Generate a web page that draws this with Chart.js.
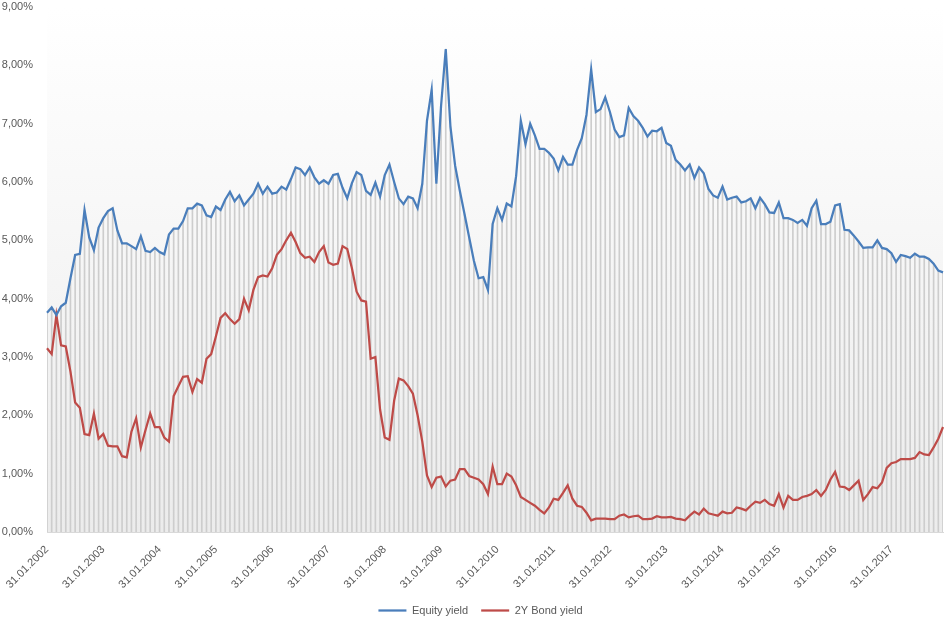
<!DOCTYPE html>
<html>
<head>
<meta charset="utf-8">
<script src="https://cdn.jsdelivr.net/npm/chart.js@4.4.1/dist/chart.umd.min.js"></script>
<style>
html,body{margin:0;padding:0;background:#ffffff;}
#wrap{width:946px;height:626px;position:relative;}
</style>
</head>
<body>
<div id="wrap"><canvas id="c" width="946" height="626"></canvas></div>
<script>
// ---- Data (monthly, 31.01.2002 .. 31.12.2017), values in % ----
const startYear = 2002;
const endYear = 2017;
const seriesNames = ['Equity yield', '2Y Bond yield'];

const equityYield = [
 3.76,3.85,3.72,3.87,3.93,4.35,4.75,4.77,5.52,5.05,4.83,5.22,
 5.38,5.50,5.55,5.17,4.95,4.95,4.90,4.85,5.07,4.82,4.80,4.87,
 4.80,4.76,5.10,5.20,5.20,5.33,5.55,5.55,5.63,5.60,5.43,5.40,
 5.58,5.52,5.70,5.83,5.67,5.77,5.60,5.70,5.80,5.97,5.80,5.92,
 5.80,5.82,5.92,5.87,6.05,6.25,6.22,6.12,6.25,6.08,5.97,6.03,
 5.97,6.12,6.14,5.90,5.72,5.98,6.17,6.12,5.85,5.78,5.99,5.75,
 6.12,6.30,6.00,5.72,5.62,5.75,5.72,5.55,5.97,7.05,7.58,5.97,
 7.30,8.28,6.95,6.28,5.85,5.45,5.05,4.65,4.35,4.37,4.15,5.28,
 5.55,5.35,5.63,5.58,6.10,7.05,6.65,7.00,6.80,6.57,6.57,6.50,
 6.40,6.20,6.43,6.30,6.30,6.55,6.75,7.15,7.93,7.20,7.25,7.45,
 7.20,6.90,6.77,6.80,7.27,7.13,7.05,6.93,6.78,6.88,6.87,6.93,
 6.67,6.62,6.38,6.30,6.20,6.30,6.07,6.25,6.15,5.88,5.77,5.73,
 5.92,5.70,5.73,5.75,5.65,5.67,5.72,5.55,5.73,5.62,5.48,5.47,
 5.65,5.38,5.38,5.35,5.30,5.35,5.25,5.55,5.68,5.28,5.28,5.32,
 5.60,5.62,5.18,5.17,5.08,4.98,4.87,4.88,4.88,5.00,4.87,4.85,
 4.78,4.63,4.75,4.73,4.70,4.77,4.72,4.72,4.68,4.60,4.48,4.45
];

const bondYield = [
 3.15,3.05,3.72,3.20,3.18,2.75,2.22,2.13,1.68,1.66,2.03,1.60,
 1.68,1.48,1.47,1.47,1.30,1.28,1.72,1.95,1.45,1.75,2.03,1.80,
 1.80,1.62,1.55,2.33,2.50,2.66,2.67,2.40,2.62,2.56,2.97,3.05,
 3.35,3.67,3.75,3.65,3.57,3.65,4.00,3.80,4.15,4.37,4.40,4.38,
 4.52,4.75,4.85,5.00,5.13,4.97,4.78,4.70,4.72,4.63,4.80,4.90,
 4.62,4.58,4.60,4.90,4.85,4.52,4.12,3.97,3.95,2.97,3.00,2.10,
 1.62,1.58,2.25,2.63,2.60,2.50,2.37,2.00,1.55,0.97,0.77,0.93,
 0.95,0.78,0.88,0.90,1.08,1.08,0.96,0.93,0.90,0.82,0.65,1.12,
 0.82,0.82,1.00,0.95,0.80,0.60,0.55,0.50,0.45,0.38,0.32,0.42,
 0.57,0.55,0.67,0.80,0.57,0.45,0.43,0.33,0.20,0.23,0.23,0.23,
 0.22,0.22,0.28,0.30,0.25,0.27,0.28,0.22,0.22,0.23,0.27,0.25,
 0.25,0.26,0.23,0.22,0.20,0.28,0.35,0.30,0.40,0.32,0.30,0.28,
 0.35,0.32,0.33,0.42,0.40,0.37,0.45,0.52,0.50,0.55,0.48,0.45,
 0.65,0.42,0.62,0.55,0.55,0.60,0.62,0.65,0.72,0.62,0.72,0.90,
 1.03,0.78,0.77,0.72,0.80,0.88,0.55,0.65,0.77,0.75,0.85,1.10,
 1.18,1.20,1.25,1.25,1.25,1.27,1.37,1.33,1.32,1.45,1.60,1.80
];

// y-axis ticks (in %)
const yMin = 0, yMax = 9, yStep = 1;

// category labels: month-end dates
const labels = [];
for (let y = startYear; y <= endYear; y++) {
  for (let m = 1; m <= 12; m++) {
    const d = new Date(y, m, 0).getDate();
    labels.push(String(d).padStart(2,'0') + '.' + String(m).padStart(2,'0') + '.' + y);
  }
}

const bgPlugin = {
  id: 'plotBg',
  afterLayout(chart) {
    if (chart.legend) { chart.legend.left += 9; chart.legend.right += 9; }
  },
  beforeDatasetsDraw(chart) {
    const {ctx, chartArea: a} = chart;
    const g = ctx.createLinearGradient(0, a.top, 0, a.bottom);
    g.addColorStop(0, '#ffffff');
    g.addColorStop(1, '#ececec');
    ctx.save();
    ctx.fillStyle = g;
    ctx.fillRect(a.left, a.top, a.right - a.left, a.bottom - a.top);
    ctx.restore();
  }
};

const FONT = "'Liberation Sans', Arial, sans-serif";

new Chart(document.getElementById('c'), {
  data: {
    labels: labels,
    datasets: [
      {
        type: 'line', label: seriesNames[0], data: equityYield,
        borderColor: '#4a7ebb', backgroundColor: '#4a7ebb',
        borderWidth: 2.25, pointRadius: 0, tension: 0, order: 1,
        pointStyle: 'line'
      },
      {
        type: 'line', label: seriesNames[1], data: bondYield,
        borderColor: '#be4b48', backgroundColor: '#be4b48',
        borderWidth: 2.25, pointRadius: 0, tension: 0, order: 2,
        pointStyle: 'line'
      },
      {
        type: 'bar', label: 'drop', data: equityYield,
        backgroundColor: '#cdcdcd', barThickness: 1, order: 10
      }
    ]
  },
  options: {
    responsive: false,
    animation: false,
    layout: { padding: { left: 0, right: 3, top: 7, bottom: 0 } },
    plugins: {
      tooltip: { enabled: false },
      legend: {
        position: 'bottom',
        labels: {
          filter: (item) => item.text !== 'drop',
          usePointStyle: true, pointStyle: 'line', pointStyleWidth: 28,
          boxHeight: 11,
          font: { family: FONT, size: 11 }, color: '#595959', padding: 13
        }
      }
    },
    scales: {
      x: {
        type: 'category', offset: false,
        grid: { display: false, drawTicks: false },
        border: { display: true, color: '#d9d9d9', width: 1 },
        ticks: {
          autoSkip: false, minRotation: 45, maxRotation: 45, padding: 11,
          font: { family: FONT, size: 11 }, color: '#595959',
          callback: function(v, i) { return i % 12 === 0 ? labels[i] : ''; }
        },
        afterFit: (s) => { s.height = 60; s.paddingRight = 0; s.paddingLeft = 0; }
      },
      y: {
        min: yMin, max: yMax,
        grid: { display: false, drawTicks: false },
        border: { display: false },
        ticks: {
          stepSize: yStep, padding: 14,
          font: { family: FONT, size: 11 }, color: '#595959',
          callback: (v) => v.toFixed(2).replace('.', ',') + '%'
        },
        afterFit: (s) => { s.width = 47; s.paddingTop = 7; s.paddingBottom = 0; }
      }
    }
  },
  plugins: [bgPlugin]
});
</script>
</body>
</html>
